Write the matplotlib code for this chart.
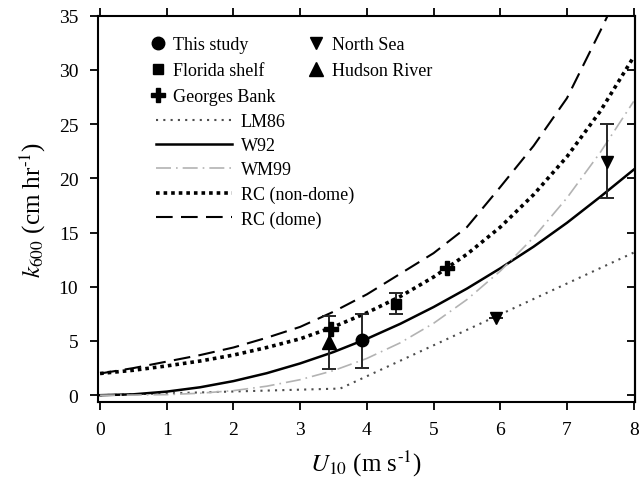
import matplotlib
matplotlib.use("Agg")
import matplotlib.pyplot as plt
from matplotlib.lines import Line2D

plt.rcParams['font.family'] = ['Liberation Serif', 'DejaVu Serif']
plt.rcParams['mathtext.fontset'] = 'stix'

# =========================
# Parameterisation curves
# =========================

u_grid = [0, 0.5, 1, 1.5, 2, 2.5, 3, 3.5, 4, 4.5, 5, 5.5, 6, 6.5, 7, 7.5, 8]

u_lm86 = [0, 1, 2, 3, 3.6, 4, 5, 6, 7, 8]
k_lm86 = [0, 0.17, 0.34, 0.51, 0.61, 1.75, 4.6, 7.45, 10.3, 13.15]

k_w92 = [0, 0.08, 0.33, 0.73, 1.3, 2.03, 2.93, 3.98, 5.2, 6.58, 8.13,
         9.83, 11.7, 13.7, 15.9, 18.3, 20.8]

k_wm99 = [0, 0.01, 0.05, 0.18, 0.42, 0.83, 1.43, 2.27, 3.39, 4.83, 6.63,
          8.82, 11.45, 14.55, 18.2, 22.4, 27.1]

k_rc_nondome = [2.0, 2.3, 2.7, 3.15, 3.7, 4.4, 5.2, 6.3, 7.6, 9.1, 10.9,
                13.0, 15.5, 18.5, 22.0, 26.2, 31.2]

k_rc_dome = [2.0, 2.5, 3.1, 3.7, 4.4, 5.3, 6.3, 7.7, 9.3, 11.2, 13.1,
             15.5, 19.2, 23.0, 27.4, 33.6, 40.0]

# =========================
# Observations
# =========================

this_u = [3.93]
this_k = [5.05]
this_lo = [2.55]
this_hi = [7.45]

florida_u = [4.43]
florida_k = [8.45]
florida_lo = [7.5]
florida_hi = [9.45]

georges_u = [3.46, 5.2]
georges_k = [6.1, 11.7]

north_u = [5.93, 7.6]
north_k = [7.15, 21.5]
north_lo = [7.15, 18.2]
north_hi = [7.15, 25.0]

hudson_u = [3.43]
hudson_k = [4.95]
hudson_lo = [2.4]
hudson_hi = [7.3]

# =========================
# Figure
# =========================

fig = plt.figure(figsize=(6.4, 4.89), dpi=100)
ax = fig.add_axes([0.1527, 0.1765, 0.8395, 0.7893])

ax.plot(u_lm86, k_lm86, color='0.3', lw=1.5, linestyle=(0, (1, 2.5)),
        label='LM86')
ax.plot(u_grid, k_w92, color='black', lw=1.8, label='W92')
ax.plot(u_grid, k_wm99, color='0.7', lw=1.2, linestyle=(0, (9, 3, 1, 3)),
        label='WM99')
ax.plot(u_grid, k_rc_nondome, color='black', lw=2.6,
        linestyle=(0, (1, 1.1)), label='RC (non-dome)')
ax.plot(u_grid, k_rc_dome, color='black', lw=1.5, linestyle=(0, (8, 4)),
        label='RC (dome)')

# error bars first, markers on top
def bars(u, k, lo, hi):
    err = [[a - b for a, b in zip(k, lo)], [b - a for a, b in zip(k, hi)]]
    ax.errorbar(u, k, yerr=err, fmt='none', ecolor='0.15', elinewidth=1.4,
                capsize=5, capthick=1.4, zorder=3)

bars(this_u, this_k, this_lo, this_hi)
bars(florida_u, florida_k, florida_lo, florida_hi)
bars(north_u, north_k, north_lo, north_hi)
bars(hudson_u, hudson_k, hudson_lo, hudson_hi)

ax.plot(this_u, this_k, 'o', color='black', ms=9, zorder=4)
ax.plot(florida_u, florida_k, 's', color='black', ms=7.5, zorder=4)
ax.plot(georges_u, georges_k, 'P', color='black', ms=10, zorder=4)
ax.plot(north_u, north_k, 'v', color='black', ms=9, zorder=4)
ax.plot(hudson_u, hudson_k, '^', color='black', ms=10, zorder=4)

# =========================
# Axes
# =========================

ax.set_xlim(-0.035, 8.02)
ax.set_ylim(-0.6, 35)
ax.set_xticks(range(0, 9))
ax.set_yticks(range(0, 36, 5))

for s in ax.spines.values():
    s.set_linewidth(1.5)

ax.tick_params(axis='both', direction='out', length=6, width=1.3,
               labelsize=14, pad=8)
ax.tick_params(axis='x', top=True)

right = ax.secondary_yaxis('right')
right.set_yticks(range(0, 36, 5))
right.tick_params(direction='in', length=6, width=1.3, labelright=False)
right.spines['right'].set_linewidth(1.5)

ax.set_xlabel(r'$U_{\mathrm{10}}$ (m s$^{\text{-1}}$)', fontsize=18,
              labelpad=7)
ax.set_ylabel(r'$k_{\mathrm{600}}$ (cm hr$^{\text{-1}}$)', fontsize=18,
              labelpad=8)

# =========================
# Legends
# =========================

marker_handles = [
    Line2D([], [], marker='o', color='black', ls='none', ms=9, label='This study'),
    Line2D([], [], marker='s', color='black', ls='none', ms=7.5, label='Florida shelf'),
    Line2D([], [], marker='P', color='black', ls='none', ms=10, label='Georges Bank'),
    Line2D([], [], marker='v', color='black', ls='none', ms=9, label='North Sea'),
    Line2D([], [], marker='^', color='black', ls='none', ms=10, label='Hudson River'),
]

leg1 = ax.legend(handles=marker_handles, ncol=2, loc='upper left',
                 bbox_to_anchor=(0.065, 0.99), frameon=False, fontsize=13,
                 handlelength=1, handletextpad=0.35, columnspacing=1.75,
                 labelspacing=0.5)
ax.add_artist(leg1)

ax.legend(loc='upper left', bbox_to_anchor=(0.078, 0.79), frameon=False,
          fontsize=13, handlelength=4.2, handletextpad=0.5,
          labelspacing=0.4)

fig.savefig("out.png", dpi=100)
